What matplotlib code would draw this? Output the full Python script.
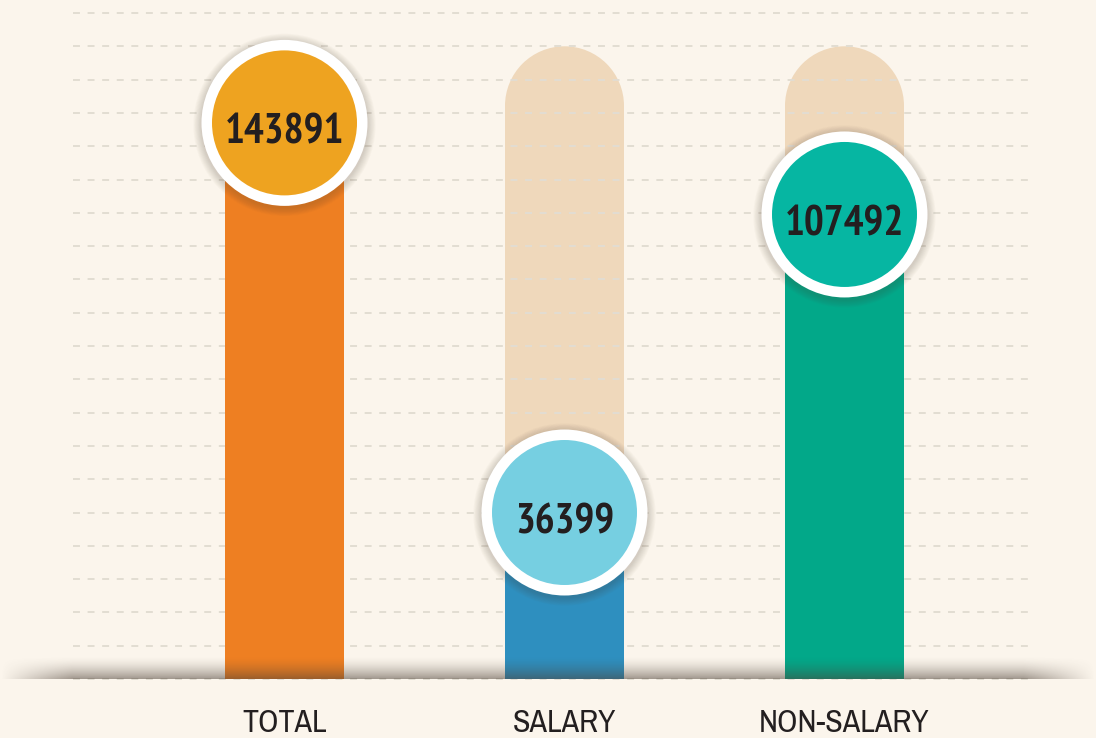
import numpy as np
import matplotlib
matplotlib.use("Agg")
import matplotlib.pyplot as plt
from matplotlib.patches import Ellipse, Rectangle
from matplotlib import font_manager as fm

# data
categories = ['TOTAL', 'SALARY', 'NON-SALARY']
values = [143891, 36399, 107492]
# bar fill level, in grid steps (track = 19 steps)
fill_level = [16.7, 5.0, 13.95]
track_level = 19
bar_colors = ['#EE7F22', '#2E8FBF', '#02A889']
bubble_colors = ['#EEA320', '#76CFE1', '#06B6A2']

BG = '#FBF5EC'
TRACK = '#EFD8BB'
INK = '#231F20'


def pick_font(bold):
    # look for a narrow / condensed face, fall back to DejaVu Sans
    want = 'bold' if bold else 'normal'
    best = None
    for f in fm.fontManager.ttflist:
        narrow = ('Narrow' in f.name or 'Condensed' in f.name
                  or f.stretch in ('condensed', 'semi-condensed', 'extra-condensed', 'ultra-condensed'))
        if not narrow:
            continue
        wt = f.weight if isinstance(f.weight, int) else (700 if 'bold' in str(f.weight) else 400)
        if f.style != 'normal':
            continue
        if (wt >= 600) != bold:
            continue
        score = 0 if 'Oswald' in f.name else (1 if 'Narrow' in f.name else 2)
        if best is None or score < best[0]:
            best = (score, f.fname)
    if best:
        return fm.FontProperties(fname=best[1])
    return fm.FontProperties(family='DejaVu Sans', weight=want, stretch='condensed')


fp_label = pick_font(False)
fp_num = pick_font(True)
plt.rcParams['lines.scale_dashes'] = False

W, H = 1096, 738
fig = plt.figure(figsize=(W / 100, H / 100), dpi=100, facecolor=BG)
ax = fig.add_axes([0, 0, 1, 1])
ax.set_facecolor(BG)
ax.axis('off')

# scale: 280 px per category, 33.3 px per grid step, baseline 59 px from bottom
px_x, px_y = 280.0, 33.3
x0, y0 = 284.5, 59.0
ax.set_xlim(-x0 / px_x, (W - x0) / px_x)
ax.set_ylim(-y0 / px_y, (H - y0) / px_y)

xs = np.arange(len(categories))
bw = 119 / px_x
cap_r = 59.5

# background tracks with rounded top
for x in xs:
    top = track_level - cap_r / px_y
    ax.add_patch(Rectangle((x - bw / 2, 0), bw, top, color=TRACK, zorder=1, lw=0))
    ax.add_patch(Ellipse((x, top), bw, 2 * cap_r / px_y, color=TRACK, zorder=1, lw=0))

# dashed grid
gx0, gx1 = (73 - x0) / px_x, (1035 - x0) / px_x
for k in range(21):
    ax.plot([gx0, gx1], [k, k], color='#E2DDD2', lw=1.4, dashes=(5, 5.5), zorder=2,
            solid_capstyle='butt', dash_capstyle='butt')

# value bars
ax.bar(xs, fill_level, width=bw, color=bar_colors, zorder=3, linewidth=0)

# bottom shadow band (dark at the baseline, fading upwards and at the sides)
nh = 60
grad = np.linspace(0, 1, nh)[:, None] ** 1.6
xx = np.linspace(0, 1, 400)[None, :]
edge = np.clip(np.minimum(xx / 0.065, (1 - xx) / 0.065), 0, 1)
img = np.zeros((nh, 400, 4))
img[..., 0] = 0.30
img[..., 1] = 0.25
img[..., 2] = 0.21
img[..., 3] = 0.52 * grad * edge
ax.imshow(img, extent=(-x0 / px_x, (W - x0) / px_x, 0, 22 / px_y), origin='upper',
          aspect='auto', zorder=4, interpolation='bilinear')

# bubbles
r_out, r_in = 83, 72.5
for x, lvl, val, c in zip(xs, fill_level, values, bubble_colors):
    for i in range(10):
        rr = r_out + 1 + i * 0.8
        ax.add_patch(Ellipse((x, lvl - 2 / px_y), 2 * rr / px_x, 2 * rr / px_y,
                             color='#5a4a3a', alpha=0.022, lw=0, zorder=5))
    ax.add_patch(Ellipse((x, lvl), 2 * r_out / px_x, 2 * r_out / px_y,
                         color='white', lw=0, zorder=6))
    ax.add_patch(Ellipse((x, lvl), 2 * r_in / px_x, 2 * r_in / px_y,
                         color=c, lw=0, zorder=7))
    ax.text(x, lvl - 6 / px_y, str(val), ha='center', va='center_baseline', color=INK,
            fontproperties=fp_num, fontsize=30, zorder=8)

# category labels
for x, name in zip(xs, categories):
    ax.text(x, -44 / px_y, name, ha='center', va='center', color=INK,
            fontproperties=fp_label, fontsize=23, zorder=8)

fig.savefig('out.png', dpi=100, facecolor=BG)
